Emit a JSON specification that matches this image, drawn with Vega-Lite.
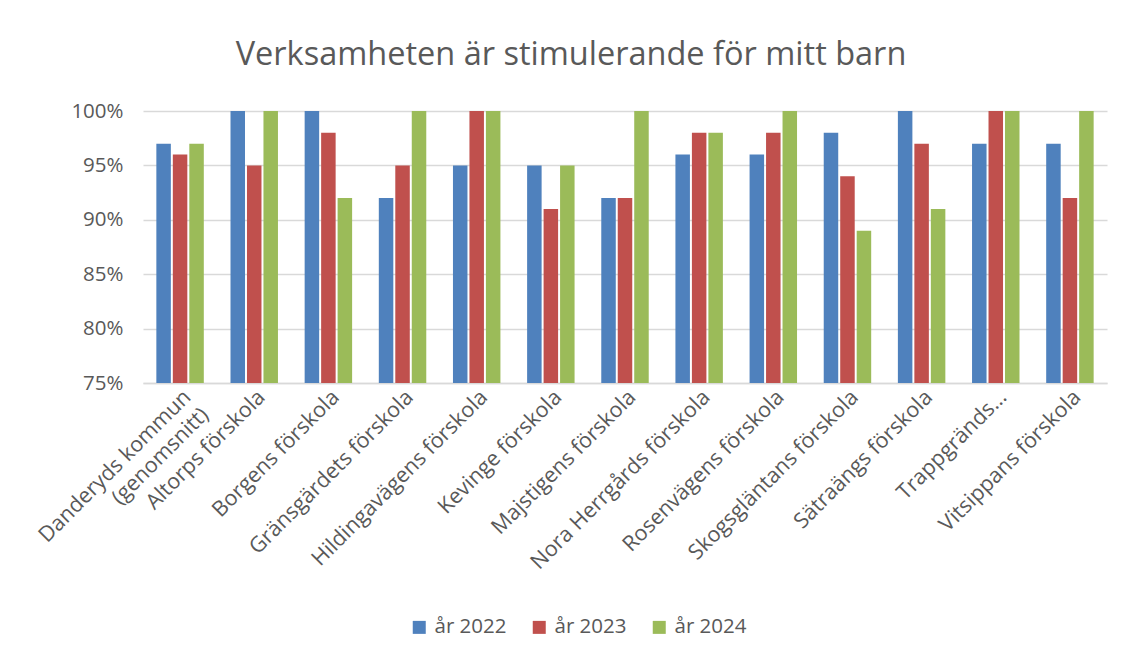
{
  "$schema": "https://vega.github.io/schema/vega-lite/v6.json",
  "width": 964,
  "height": 272,
  "autosize": {"type": "none"},
  "padding": {"left": 143, "top": 111, "right": 25, "bottom": 275},
  "background": "white",
  "title": {
    "text": "Verksamheten är stimulerande för mitt barn",
    "font": "Open Sans",
    "fontSize": 32.5,
    "fontWeight": "normal",
    "color": "#595959",
    "anchor": "middle",
    "dx": -54,
    "offset": 30
  },
  "data": {
    "values": [
      {"skola": "Danderyds kommun (genomsnitt)", "år": "år 2022", "andel": 0.97},
      {"skola": "Danderyds kommun (genomsnitt)", "år": "år 2023", "andel": 0.96},
      {"skola": "Danderyds kommun (genomsnitt)", "år": "år 2024", "andel": 0.97},
      {"skola": "Altorps förskola", "år": "år 2022", "andel": 1.0},
      {"skola": "Altorps förskola", "år": "år 2023", "andel": 0.95},
      {"skola": "Altorps förskola", "år": "år 2024", "andel": 1.0},
      {"skola": "Borgens förskola", "år": "år 2022", "andel": 1.0},
      {"skola": "Borgens förskola", "år": "år 2023", "andel": 0.98},
      {"skola": "Borgens förskola", "år": "år 2024", "andel": 0.92},
      {"skola": "Gränsgärdets förskola", "år": "år 2022", "andel": 0.92},
      {"skola": "Gränsgärdets förskola", "år": "år 2023", "andel": 0.95},
      {"skola": "Gränsgärdets förskola", "år": "år 2024", "andel": 1.0},
      {"skola": "Hildingavägens förskola", "år": "år 2022", "andel": 0.95},
      {"skola": "Hildingavägens förskola", "år": "år 2023", "andel": 1.0},
      {"skola": "Hildingavägens förskola", "år": "år 2024", "andel": 1.0},
      {"skola": "Kevinge förskola", "år": "år 2022", "andel": 0.95},
      {"skola": "Kevinge förskola", "år": "år 2023", "andel": 0.91},
      {"skola": "Kevinge förskola", "år": "år 2024", "andel": 0.95},
      {"skola": "Majstigens förskola", "år": "år 2022", "andel": 0.92},
      {"skola": "Majstigens förskola", "år": "år 2023", "andel": 0.92},
      {"skola": "Majstigens förskola", "år": "år 2024", "andel": 1.0},
      {"skola": "Nora Herrgårds förskola", "år": "år 2022", "andel": 0.96},
      {"skola": "Nora Herrgårds förskola", "år": "år 2023", "andel": 0.98},
      {"skola": "Nora Herrgårds förskola", "år": "år 2024", "andel": 0.98},
      {"skola": "Rosenvägens förskola", "år": "år 2022", "andel": 0.96},
      {"skola": "Rosenvägens förskola", "år": "år 2023", "andel": 0.98},
      {"skola": "Rosenvägens förskola", "år": "år 2024", "andel": 1.0},
      {"skola": "Skogsgläntans förskola", "år": "år 2022", "andel": 0.98},
      {"skola": "Skogsgläntans förskola", "år": "år 2023", "andel": 0.94},
      {"skola": "Skogsgläntans förskola", "år": "år 2024", "andel": 0.89},
      {"skola": "Sätraängs förskola", "år": "år 2022", "andel": 1.0},
      {"skola": "Sätraängs förskola", "år": "år 2023", "andel": 0.97},
      {"skola": "Sätraängs förskola", "år": "år 2024", "andel": 0.91},
      {"skola": "Trappgränds…", "år": "år 2022", "andel": 0.97},
      {"skola": "Trappgränds…", "år": "år 2023", "andel": 1.0},
      {"skola": "Trappgränds…", "år": "år 2024", "andel": 1.0},
      {"skola": "Vitsippans förskola", "år": "år 2022", "andel": 0.97},
      {"skola": "Vitsippans förskola", "år": "år 2023", "andel": 0.92},
      {"skola": "Vitsippans förskola", "år": "år 2024", "andel": 1.0}
    ]
  },
  "mark": {"type": "bar", "clip": true},
  "encoding": {
    "x": {
      "field": "skola",
      "type": "nominal",
      "sort": null,
      "scale": {"paddingInner": 0.36, "paddingOuter": 0.18},
      "axis": {
        "title": null,
        "labelAngle": -45,
        "labelAlign": "right",
        "labelBaseline": "top",
        "labelFont": "Open Sans",
        "labelFontSize": 21.5,
        "labelColor": "#595959",
        "labelPadding": 3,
        "labelLimit": 360,
        "labelOverlap": false,
        "labelLineHeight": 25,
        "ticks": false,
        "domainColor": "#d9d9d9",
        "domainWidth": 1.5,
        "labelExpr": "datum.value == 'Danderyds kommun (genomsnitt)' ? ['Danderyds kommun', '(genomsnitt)'] : datum.label"
      }
    },
    "xOffset": {"field": "år", "type": "nominal", "scale": {"paddingInner": 0.12}},
    "y": {
      "field": "andel",
      "type": "quantitative",
      "scale": {"domain": [0.75, 1.0], "zero": false, "nice": false},
      "axis": {
        "title": null,
        "values": [0.75, 0.8, 0.85, 0.9, 0.95, 1.0],
        "format": ".0%",
        "labelFont": "Open Sans",
        "labelFontSize": 20.5,
        "labelColor": "#595959",
        "labelPadding": 20,
        "ticks": false,
        "domain": false,
        "gridColor": "#d9d9d9",
        "gridWidth": 1.5
      }
    },
    "color": {
      "field": "år",
      "type": "nominal",
      "scale": {"domain": ["år 2022", "år 2023", "år 2024"], "range": ["#4f81bd", "#c0504d", "#9bbb59"]},
      "legend": {
        "title": null,
        "orient": "none",
        "direction": "horizontal",
        "legendX": 266,
        "legendY": 506,
        "symbolType": "square",
        "symbolSize": 169,
        "symbolStrokeWidth": 0,
        "labelFont": "Open Sans",
        "labelFontSize": 20.5,
        "labelColor": "#595959",
        "columnPadding": 22,
        "labelOffset": 5
      }
    }
  },
  "config": {"view": {"stroke": null}}
}
